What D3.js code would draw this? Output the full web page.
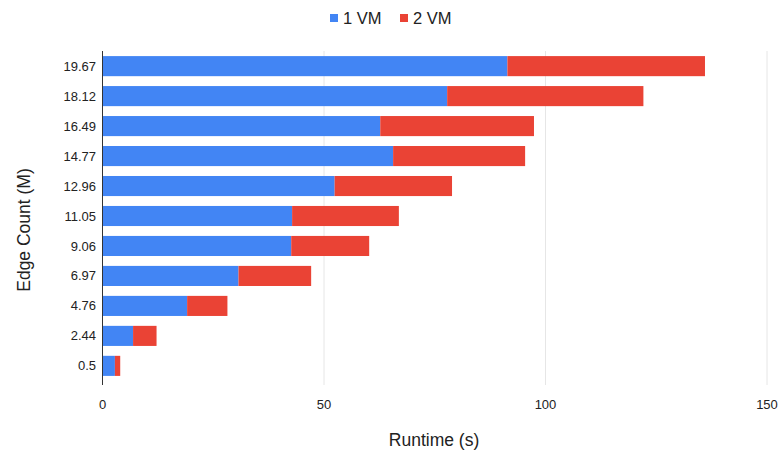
<!DOCTYPE html>
<html>
<head>
<meta charset="utf-8">
<script src="https://cdn.jsdelivr.net/npm/d3@7"></script>
<style>
    body { margin: 0; background: #fff; }
    text { font-family: Arial, "Liberation Sans", sans-serif; fill: #222; }
</style>
</head>
<body>
<svg id="chart"></svg>
<script>
// edge counts (M), top to bottom
let edgeCounts = ["19.67", "18.12", "16.49", "14.77", "12.96", "11.05", "9.06", "6.97", "4.76", "2.44", "0.5"];
// runtime (s)
let oneVM = [91.4, 77.8, 62.7, 65.6, 52.4, 42.8, 42.6, 30.7, 19.1, 6.9, 2.8];
let twoVM = [44.6, 44.3, 34.7, 29.8, 26.5, 24.1, 17.6, 16.4, 9.1, 5.3, 1.2];
let seriesNames = ["1 VM", "2 VM"];
let xTicks = [0, 50, 100, 150];

let colors = ["#4285f4", "#ea4335"];

let rows = edgeCounts.map((e, i) => ({ edge: e, "1 VM": oneVM[i], "2 VM": twoVM[i] }));
let stacked = d3.stack().keys(seriesNames)(rows);

let svg = d3.select('#chart').attr('width', 781).attr('height', 459);

let scX = d3.scaleLinear().domain([0, 150]).range([102.5, 767]);
let scY = d3.scaleBand().domain(edgeCounts).range([51, 381])
    .paddingInner(0.33).paddingOuter(0.17);

// gridlines
svg.append('g').selectAll('line')
    .data(xTicks.filter(t => t > 0)).enter().append('line')
    .attr('x1', d => scX(d)).attr('x2', d => scX(d))
    .attr('y1', 51).attr('y2', 385)
    .attr('stroke', '#e6e6e6').attr('stroke-width', 1);

// bars
svg.append('g').selectAll('g')
    .data(stacked).enter().append('g')
    .attr('fill', (d, i) => colors[i])
    .selectAll('rect')
    .data(d => d).enter().append('rect')
    .attr('x', d => scX(d[0]))
    .attr('width', d => scX(d[1]) - scX(d[0]))
    .attr('y', d => scY(d.data.edge))
    .attr('height', scY.bandwidth());

// baseline axis
svg.append('line')
    .attr('x1', scX(0)).attr('x2', scX(0))
    .attr('y1', 51).attr('y2', 385)
    .attr('stroke', '#333').attr('stroke-width', 1);

// y tick labels
svg.append('g').selectAll('text')
    .data(edgeCounts).enter().append('text')
    .attr('x', 96).attr('y', d => scY(d) + scY.bandwidth() / 2)
    .attr('dy', '0.35em').attr('text-anchor', 'end')
    .attr('font-size', 13)
    .text(d => d);

// x tick labels
svg.append('g').selectAll('text')
    .data(xTicks).enter().append('text')
    .attr('x', d => scX(d)).attr('y', 409)
    .attr('text-anchor', 'middle').attr('font-size', 13)
    .text(d => d);

// axis titles
svg.append('text')
    .attr('x', 434).attr('y', 446)
    .attr('text-anchor', 'middle').attr('font-size', 17.5)
    .text('Runtime (s)');

svg.append('text')
    .attr('transform', 'translate(30,230) rotate(-90)')
    .attr('text-anchor', 'middle').attr('font-size', 17.5)
    .text('Edge Count (M)');

// legend
let legendX = [330, 400];
let lg = svg.append('g').selectAll('g')
    .data(seriesNames).enter().append('g')
    .attr('transform', (d, i) => `translate(${legendX[i]},0)`);
lg.append('rect')
    .attr('x', 0).attr('y', 14).attr('width', 8).attr('height', 8)
    .attr('fill', (d, i) => colors[i]);
lg.append('text')
    .attr('x', 13).attr('y', 23.5).attr('font-size', 16.5)
    .text(d => d);
</script>
</body>
</html>
